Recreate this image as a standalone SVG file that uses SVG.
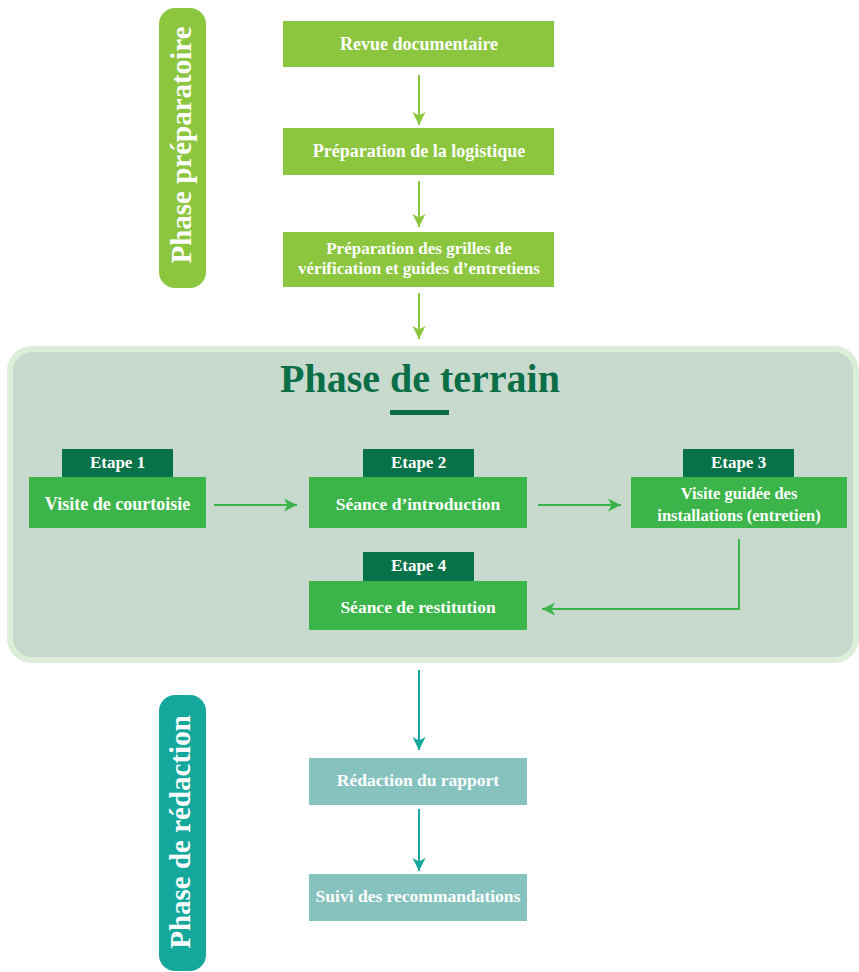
<svg xmlns="http://www.w3.org/2000/svg" width="859" height="972" viewBox="0 0 859 972">
<style>
text{font-family:"Liberation Serif","DejaVu Serif",serif;font-weight:bold;fill:#ffffff;text-anchor:middle}
.lg{fill:#8cc63f}
.mg{fill:#3bb54a}
.dg{fill:#077148}
.tl{fill:#86c3be}
.box{font-size:17.5px}
.tab{font-size:17px}
.vert{font-size:29px}
.title{font-size:40px;fill:#0a6e46}
.c-lg{stroke:#8cc63f;stroke-width:2;fill:none;marker-end:url(#ah-lg)}
.c-mg{stroke:#3bb54a;stroke-width:2;fill:none;marker-end:url(#ah-mg)}
.c-tl{stroke:#14a89c;stroke-width:2;fill:none;marker-end:url(#ah-tl)}
</style>
<defs>
<marker id="ah-lg" markerUnits="userSpaceOnUse" markerWidth="14" markerHeight="14" refX="13" refY="7" orient="auto"><path d="M0,0.5 L13,7 L0,13.5 L3.5,7 Z" fill="#8cc63f"/></marker>
<marker id="ah-mg" markerUnits="userSpaceOnUse" markerWidth="14" markerHeight="14" refX="13" refY="7" orient="auto"><path d="M0,0.5 L13,7 L0,13.5 L3.5,7 Z" fill="#3bb54a"/></marker>
<marker id="ah-tl" markerUnits="userSpaceOnUse" markerWidth="14" markerHeight="14" refX="13" refY="7" orient="auto"><path d="M0,0.5 L13,7 L0,13.5 L3.5,7 Z" fill="#14a89c"/></marker>
</defs>
<rect width="859" height="972" fill="#ffffff"/>

<g id="phase-preparatoire">
<rect x="159" y="8" width="47" height="280" rx="16" fill="#8cc63f"/>
<text class="vert" transform="translate(191,145) rotate(-90)">Phase préparatoire</text>
</g>

<g id="revue">
<rect class="lg" x="283" y="21" width="271" height="46"/>
<text class="box" x="419" y="50" style="font-size:18px">Revue documentaire</text>
</g>
<g id="logistique">
<rect class="lg" x="283" y="128" width="271" height="47"/>
<text class="box" x="419" y="157" style="font-size:18px">Préparation de la logistique</text>
</g>
<g id="grilles">
<rect class="lg" x="283" y="232" width="271" height="55"/>
<text class="box" x="419" y="254" style="font-size:17px">Préparation des grilles de</text>
<text class="box" x="419" y="274" style="font-size:17px">vérification et guides d’entretiens</text>
</g>

<g id="phase-terrain">
<rect x="10" y="349" width="846" height="311" rx="22" fill="#c7dacd" stroke="#dcedd8" stroke-width="6"/>
<text class="title" x="420" y="392">Phase de terrain</text>
<rect x="390" y="410" width="59" height="5" fill="#0a6e46"/>
</g>

<g id="etape1">
<rect class="dg" x="62" y="449" width="111" height="28"/>
<text class="tab" x="117.5" y="468">Etape 1</text>
<rect class="mg" x="29" y="477" width="177" height="51"/>
<text class="box" x="117.5" y="510" style="font-size:18px">Visite de courtoisie</text>
</g>
<g id="etape2">
<rect class="dg" x="363" y="449" width="111" height="28"/>
<text class="tab" x="418.5" y="468">Etape 2</text>
<rect class="mg" x="309" y="477" width="218" height="51"/>
<text class="box" x="418" y="510">Séance d’introduction</text>
</g>
<g id="etape3">
<rect class="dg" x="683" y="449" width="111" height="28"/>
<text class="tab" x="738.5" y="468">Etape 3</text>
<rect class="mg" x="631" y="477" width="216" height="51"/>
<text class="box" x="739" y="499" style="font-size:16.5px">Visite guidée des</text>
<text class="box" x="739" y="521" style="font-size:16.5px">installations (entretien)</text>
</g>
<g id="etape4">
<rect class="dg" x="363" y="552" width="111" height="29"/>
<text class="tab" x="418.5" y="571">Etape 4</text>
<rect class="mg" x="309" y="581" width="218" height="49"/>
<text class="box" x="418" y="613">Séance de restitution</text>
</g>

<g id="phase-redaction">
<rect x="159" y="695" width="47" height="276" rx="16" fill="#14a89c"/>
<text class="vert" transform="translate(190,832) rotate(-90)">Phase de rédaction</text>
</g>
<g id="rapport">
<rect class="tl" x="309" y="758" width="218" height="47"/>
<text class="box" x="418" y="786">Rédaction du rapport</text>
</g>
<g id="suivi">
<rect class="tl" x="309" y="874" width="218" height="47"/>
<text class="box" x="418" y="902">Suivi des recommandations</text>
</g>

<g id="connectors">
<path class="c-lg" d="M419,75 V125"/>
<path class="c-lg" d="M419,181 V227"/>
<path class="c-lg" d="M419,293 V339"/>
<path class="c-mg" d="M214,505 H297"/>
<path class="c-mg" d="M538,505 H621"/>
<path class="c-mg" d="M739,539 V609 H542"/>
<path class="c-tl" d="M419,670 V750"/>
<path class="c-tl" d="M419,809 V871"/>
</g>
</svg>
